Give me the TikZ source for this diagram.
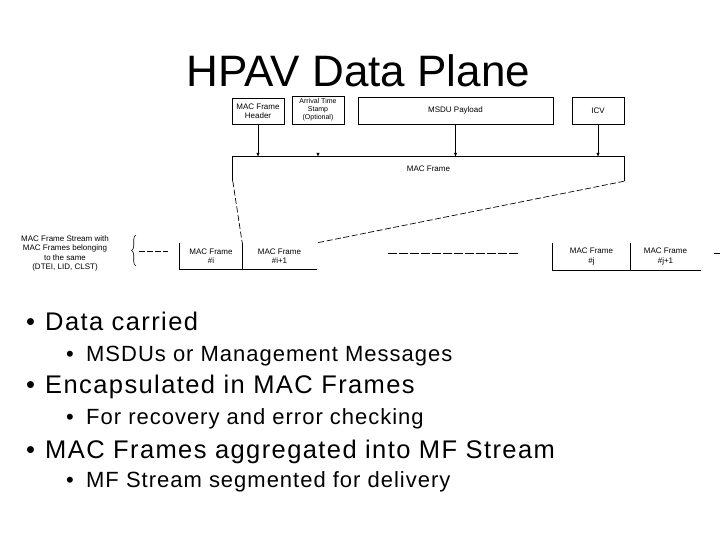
\documentclass[tikz,border=0pt]{standalone}
\usepackage{fontspec}
\setmainfont{Liberation Sans}
\usetikzlibrary{arrows.meta}
\usetikzlibrary{decorations.pathreplacing}
\tikzset{
  field/.style={draw, line width=0.8pt, inner sep=0pt, align=center, font=\fontsize{8}{9.5}\selectfont},
  slot/.style={inner sep=0pt, align=center, font=\fontsize{8}{9.5}\selectfont},
  feed/.style={line width=0.8pt, -{Latex[length=4pt,width=3.5pt]}},
  gap/.style={line width=0.7pt, dash pattern=on 6pt off 2.5pt},
  edge/.style={line width=0.8pt}
}
\newcommand{\pointA}[3]{ \node[anchor=base west, inner sep=0pt, font={\fontsize{25.5}{30}\selectfont\addfontfeature{LetterSpace=5.5}}] (#1) at (26,#2) {\makebox[19pt][l]{\textbullet}#3};}
\newcommand{\pointB}[3]{ \node[anchor=base west, inner sep=0pt, font={\fontsize{22}{26}\selectfont\addfontfeature{LetterSpace=4.5}}] (#1) at (66,#2) {\makebox[20pt][l]{\textbullet}#3};}

\begin{document}
\begin{tikzpicture}[x=1pt, y=-1pt]
        \fill[white] (0,0) rectangle (720,540);
        \useasboundingbox (0,0) rectangle (720,540);

        % title
        \node[anchor=base, inner sep=0pt, font=\fontsize{44}{50}\selectfont] (title) at (358.5,87) {HPAV Data Plane};

        % fields
        \node[field, minimum width=52, minimum height=26] (hdr) at (258,111) {MAC Frame\\Header};
        \node[field, minimum width=52, minimum height=28, font=\fontsize{7}{8}\selectfont] (ats) at (318,110) {Arrival Time\\Stamp\\(Optional)};
        \node[field, minimum width=195, minimum height=27] (pay) at (455.5,110.5) {MSDU Payload};
        \node[field, minimum width=52, minimum height=27] (icv) at (598,110.5) {ICV};

        % frame
        \node[slot, minimum width=391, minimum height=24] (mf) at (428.5,169) {MAC Frame};
        \draw[edge] (mf.south west) -- (mf.north west) -- (mf.north east) -- (mf.south east);
        \draw[feed] (hdr.south) -- (hdr.south |- mf.north);
        \coordinate (atstip) at (ats.south |- mf.north);
        \draw[feed] ([yshift=4pt]atstip) -- (atstip);
        \draw[feed] (pay.south) -- (pay.south |- mf.north);
        \draw[feed] (icv.south) -- (icv.south |- mf.north);

        % stream, first pair
        \node[slot, minimum width=62, minimum height=26] (fi) at (211,256) {MAC Frame\\\#i};
        \node[slot, minimum width=75, minimum height=26] (fi1) at (279.5,256) {MAC Frame\\\#i+1};
        \draw[edge] (fi.north west) -- (fi.south west) -- (fi1.south east);
        \draw[edge] (fi.north east) -- (fi.south east);
        % stream, second pair
        \node[slot, minimum width=77, minimum height=27] (fj) at (591.5,256.5) {MAC Frame\\\#j};
        \node[slot, minimum width=71, minimum height=27] (fj1) at (665.5,256.5) {MAC Frame\\\#j+1};
        \draw[edge] (fj.north west) -- (fj.south west) -- (fj1.south east);
        \draw[edge] (fj.north east) -- (fj.south east);

        % expansion
        \draw[gap] (mf.south west) -- (fi.north east);
        \draw[gap] (mf.south east) -- (fi1.north east);

        % gaps in the stream
        \coordinate (leadA) at (139,251);
        \coordinate (leadB) at (168,251);
        \draw[gap, dash pattern=on 6pt off 2pt] (leadA) -- (leadB);
        \coordinate (midA) at (388,253);
        \coordinate (midB) at (518,253);
        \draw[gap, dash pattern=on 9pt off 2pt] (midA) -- (midB);
        \coordinate (tailA) at (714,253);
        \coordinate (tailB) at (720,253);
        \draw[edge] (tailA) -- (tailB);

        % brace and its text
        \coordinate (braceB) at (136,266);
        \coordinate (braceT) at (136,235);
        \draw[line width=0.6pt, decorate, decoration={brace, amplitude=4.5pt}] (braceB) -- (braceT);
        \node[slot, font=\fontsize{8}{9.3}\selectfont] (stream) at (65,253.5) {MAC Frame Stream with\\MAC Frames belonging\\to the same\\(DTEI, LID, CLST)};

        % text
        \pointA{carried}{330}{Data carried}
        \pointB{msdu}{361}{MSDUs or Management Messages}
        \pointA{encap}{393}{Encapsulated in MAC Frames}
        \pointB{recov}{424}{For recovery and error checking}
        \pointA{aggr}{458}{MAC Frames aggregated into MF Stream}
        \pointB{segm}{487}{MF Stream segmented for delivery}
    \end{tikzpicture}
\end{document}
